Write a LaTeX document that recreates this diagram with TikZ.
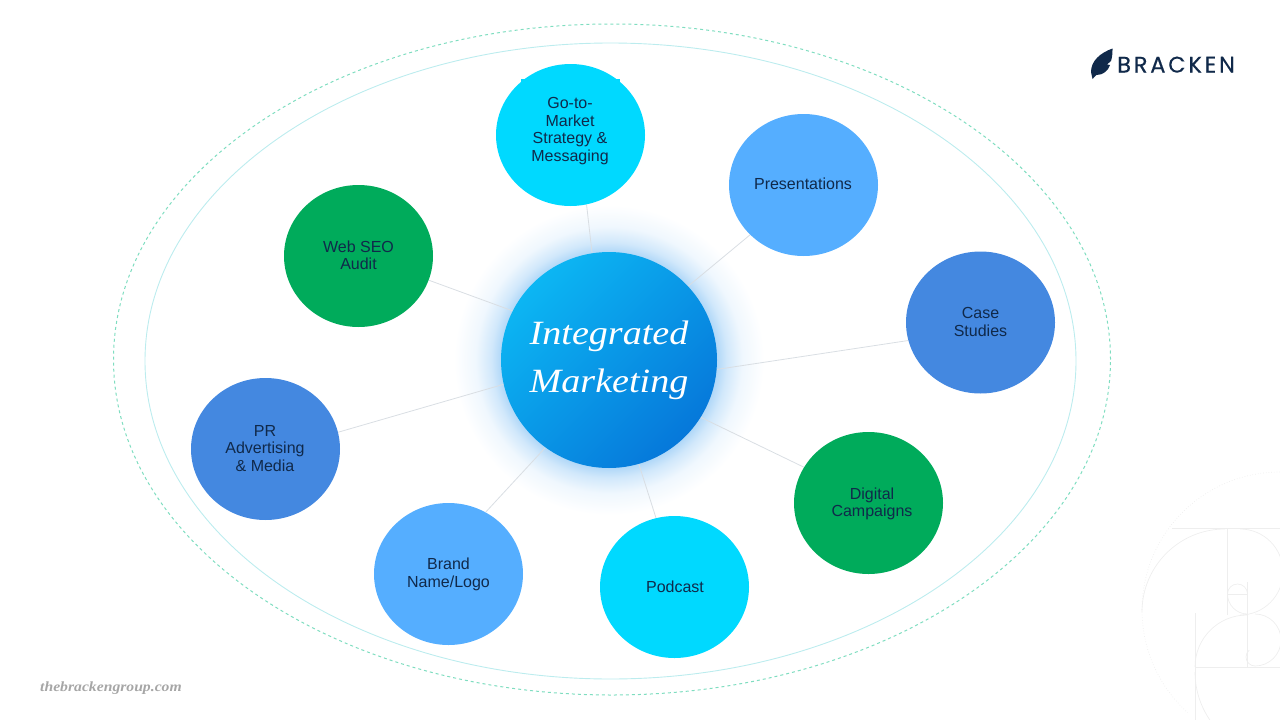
\documentclass[tikz,border=0pt]{standalone}
\usepackage{fontspec}
\setmainfont{Liberation Sans}
\newfontfamily\hubfont[FakeStretch=1.12]{Liberation Serif}
\newfontfamily\logofont[LetterSpace=12.5,FakeBold=0.4]{Poppins}
\usetikzlibrary{shapes.geometric,backgrounds}
\definecolor{navy}{HTML}{10294A}
\definecolor{cyanfill}{HTML}{00D9FF}
\definecolor{skyfill}{HTML}{55AEFF}
\definecolor{midfill}{HTML}{4488E0}
\definecolor{greenfill}{HTML}{00AB5B}
\definecolor{wire}{HTML}{D9DEE3}
\definecolor{mark}{HTML}{EEEEEE}
\definecolor{outerring}{HTML}{7FDDC0}
\definecolor{innerring}{HTML}{BCECEE}
\definecolor{hubA}{HTML}{0CB6F3}
\definecolor{hubB}{HTML}{0678DA}
\pgfdeclareradialshading{hubglow}{\pgfpoint{0bp}{0bp}}{
  rgb(0bp)=(0.55,0.78,0.96);
  rgb(17bp)=(0.66,0.83,0.97);
  rgb(19bp)=(0.82,0.91,0.985);
  rgb(21.5bp)=(0.94,0.97,0.995);
  rgb(25bp)=(1,1,1);
  rgb(50bp)=(1,1,1)}
\tikzset{
  sat/.style={ellipse,fill=#1,minimum width=149pt,minimum height=142pt,inner sep=0pt},
  sattext/.style={align=center,text=navy,inner sep=0pt,font=\fontsize{16}{17.5}\selectfont},
  hubstyle/.style={circle,minimum size=216pt,inner sep=0pt,align=center,text=white,
    top color=hubA,bottom color=hubB,shading angle=45,font=\hubfont\itshape\fontsize{34}{48}\selectfont},
  wirestyle/.style={draw=wire,line width=0.8pt},
  marker/.style={draw=mark,line width=0.7pt}
}
\begin{document}
\begin{tikzpicture}[x=1pt,y=-1pt]
\useasboundingbox (0,0) rectangle (1280,720);
% watermark
\begin{scope}
\clip (1130,470) rectangle (1280,720);
\draw[marker,dotted] (1280,472) arc[start angle=90,end angle=228,radius=138pt];
\draw[marker] (1172,528.5) -- (1280,528.5);
\draw[marker] (1225,529) arc[start angle=90,end angle=180,radius=83pt];
\draw[marker] (1227.5,529) -- (1227.5,615);
\draw[marker] (1240,529) arc[start angle=90,end angle=-90,radius=43pt];
\draw[marker] (1227.5,594) arc[start angle=180,end angle=0,radius=10pt];
\draw[marker] (1227.5,594) arc[start angle=180,end angle=270,radius=20pt];
\draw[marker] (1227.5,594) -- (1247.5,594);
\draw[marker] (1247.5,582) -- (1247.5,667);
\draw[marker,line width=1pt] (1195,613) -- (1195,720);
\draw[marker,line width=1pt] (1195,667) -- (1280,667);
\draw[marker] (1195,667) arc[start angle=180,end angle=90,radius=52pt];
\draw[marker] (1255,614) arc[start angle=90,end angle=-90,radius=26pt];
\draw[marker] (1255,666) arc[start angle=270,end angle=130,radius=9pt];
\draw[marker] (1195,672) arc[start angle=180,end angle=230,radius=85pt];
\end{scope}
% ellipses
\draw[draw=outerring,line width=1pt,dash pattern=on 3pt off 3pt] (612,359.5) ellipse [x radius=498.5pt,y radius=335.5pt];
\draw[draw=innerring,line width=0.9pt] (610.5,361) ellipse [x radius=465.5pt,y radius=318pt];
% nodes
\node[hubstyle] (hub) at (609,360) {Integrated\\Marketing};
\node[sat=cyanfill] (go) at (570.5,135) {};
\fill[cyanfill] (521,78.5) rectangle (527,83);
\fill[cyanfill] (614,78.5) rectangle (619.5,83);
\node[sat=skyfill] (pres) at (803.5,185) {};
\node[sat=midfill] (case) at (980.5,322.5) {};
\node[sat=greenfill] (dig) at (868.5,503) {};
\node[sat=cyanfill] (pod) at (674.5,587) {};
\node[sat=skyfill] (brand) at (448.5,574) {};
\node[sat=midfill] (pr) at (265.5,449) {};
\node[sat=greenfill] (web) at (358.5,256) {};
\node[sattext] (goT) at (570,131) {Go-to-\\Market\\Strategy \&\\Messaging};
\node[sattext] (presT) at (803,184) {Presentations};
\node[sattext] (caseT) at (980.5,322) {Case\\Studies};
\node[sattext] (digT) at (872,504) {Digital\\Campaigns};
\node[sattext] (podT) at (675,587) {Podcast};
\node[sattext] (brandT) at (448.5,574.5) {Brand\\Name/Logo};
\node[sattext] (prT) at (265,448.5) {PR\\Advertising\\\& Media};
\node[sattext] (webT) at (358.5,255.5) {Web SEO\\Audit};
% glow and connectors
\begin{pgfonlayer}{background}
\shade[shading=hubglow] (609,360) circle [radius=155pt];
\draw[wirestyle] (go.-77.3) -- (hub.99);
\draw[wirestyle] (pres.223) -- (hub.43.5);
\draw[wirestyle] (case.194.8) -- (hub.-5);
\draw[wirestyle] (dig.151.4) -- (hub.-32);
\draw[wirestyle] (pod.105.2) -- (hub.-74);
\draw[wirestyle] (brand.59.4) -- (hub.234.7);
\draw[wirestyle] (pr.13.9) -- (hub.193.8);
\draw[wirestyle] (web.-19) -- (hub.153.7);
\end{pgfonlayer}
% logo
\fill[navy] (1112.5,48.5) .. controls (1100,53) and (1091,61) .. (1091,72)
  .. controls (1091.2,74) and (1092,76) .. (1092.6,79)
  .. controls (1094,77.5) and (1095,76) .. (1096.5,75)
  .. controls (1103,75) and (1108,71) .. (1110,65)
  -- (1107,64.5) -- (1111,61) .. controls (1112.2,57) and (1112.6,53) .. (1112.5,48.5) -- cycle;
\node[inner sep=0pt,anchor=base west,text=navy,font=\logofont\fontsize{22.5}{22.5}\selectfont] (logo) at (1117,72.5) {BRACKEN};
\node[inner sep=0pt,anchor=base west,text=black!35,font=\hubfont\itshape\bfseries\fontsize{14}{14}\selectfont] (site) at (40,691) {thebrackengroup.com};
\end{tikzpicture}
\end{document}
